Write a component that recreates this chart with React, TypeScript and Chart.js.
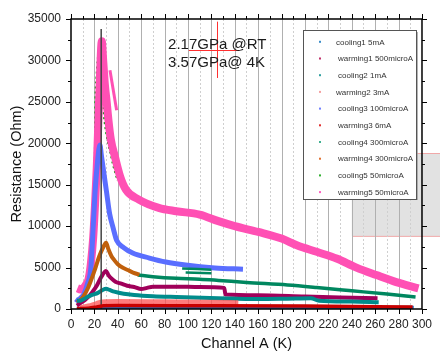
import React, { useEffect, useRef } from 'react';
import { Chart, registerables } from 'chart.js';
Chart.register(...registerables);

type P = [number, number];

const xTicks = [0, 20, 40, 60, 80, 100, 120, 140, 160, 180, 200, 220, 240, 260, 280, 300];
const yTicks = [0, 5000, 10000, 15000, 20000, 25000, 30000, 35000];

const cooling1: P[] = [[5, 80], [30, 120], [100, 150], [200, 160], [293, 200]];
const warming1: P[] = [[5, 400], [8, 700], [12, 1100], [15, 1500], [18, 2000], [22, 2800], [26, 3900], [30, 4600], [32, 4100], [34.5, 3700], [38, 3300], [43, 3050], [48, 2800], [54, 2650], [60, 2400], [65, 2550], [70, 2700], [90, 2700], [110, 2650], [131, 2550], [132, 1750], [160, 1650], [200, 1500], [230, 1400], [262, 1300]];
const cooling2: P[] = [[5, 1000], [8, 1000], [11, 1200], [14.7, 1500], [18, 1700], [23, 1950], [27, 2300], [30, 2450], [33, 2300], [37, 2100], [45, 1850], [54, 1700], [70, 1550], [90, 1450], [126, 1300], [160, 1200], [185, 1250], [205, 1300], [212, 1000], [240, 900], [263, 800]];
const warming2: P[] = [[8, 100], [15, 300], [22, 600], [27, 800], [40, 850], [80, 800], [120, 750], [143, 700]];
const cooling3: P[] = [[4, 1200], [6, 1000], [8, 1300], [11, 1800], [14, 3000], [17, 5000], [19, 10000], [20.5, 14000], [22.5, 17500], [24.7, 19800], [26, 18500], [27.7, 16800], [30.5, 14000], [33, 11500], [36, 9800], [39, 8300], [45, 7400], [52.7, 6750], [67, 6150], [81, 5670], [98, 5300], [123, 4950], [147, 4800]];
const warming3: P[] = [[5, 50], [15, 100], [22, 250], [28, 400], [40, 420], [100, 400], [200, 350], [292, 250]];
const cooling4: P[] = [[57, 4100], [70, 3900], [90, 3700], [110, 3600], [126, 3450], [150, 3200], [185, 2900], [210, 2600], [240, 2200], [270, 1800], [294.5, 1450]];
const cooling4b: P[] = [[95, 4900], [120, 4750]];
const cooling4c: P[] = [[98, 4400], [120, 4300]];
const warming4: P[] = [[5, 800], [8, 1100], [11, 1600], [14.7, 2600], [18, 3800], [21, 5000], [24, 6300], [27, 7300], [30, 8000], [32, 7200], [34.5, 6400], [37, 5900], [40, 5400], [44, 5000], [48.5, 4700], [53, 4400], [58.5, 4150]];
const cooling5: P[] = [[14, 2500], [17, 6000], [19, 12000], [20.5, 17000], [21, 24400], [22, 28000], [23, 30000], [25, 32100], [26.5, 28000], [28, 24000], [30, 21500], [32, 20000], [34, 18800], [36, 17500], [38, 16500], [40, 15500]];
const warming5: P[] = [[5.5, 2500], [8, 2350], [11, 2600], [13, 3000], [15, 3600], [17, 5500], [19, 8700], [20.5, 12500], [22, 17000], [23.5, 23000], [25, 29000], [26.3, 32300], [27.5, 30000], [29, 27000], [30.5, 25000], [32, 22800], [34, 20500], [37.5, 18400], [42, 16000], [47, 14400], [58, 13200], [75, 12200], [90, 11800], [110, 11400], [126, 10600], [140, 10000], [160, 9300], [180, 8500], [193, 7700], [210, 6900], [227, 6100], [244, 5000], [261, 4100], [278, 3250], [297, 2500]];
const warming5b: P[] = [[33.3, 28800], [39, 24000]];
const warming5c: P[] = [[31, 25200], [33, 23600]];
const markerLine: P[] = [[25.8, 0], [25.8, 33800]];

const legendLabels = ['cooling1 5mA', 'warming1 500microA', 'cooling2 1mA', 'warming2 3mA', 'cooling3 100microA', 'warming3 6mA', 'cooling4 300microA', 'warming4 300microA', 'cooling5 50microA', 'warming5 50microA'];
const legendColors = ['#3a8cc8', '#c0306a', '#30a0a0', '#f4a0a0', '#7080ff', '#e03030', '#40b090', '#e07030', '#30b030', '#ff60c0'];

const noteLines = ['2.17GPa @RT', '3.57GPa@ 4K'];

const FONT = '"Liberation Sans", Arial, sans-serif';

function ds(label: string, pts: P[], color: string, width: number, order: number, extra: any = {}) {
  return {
    label,
    data: pts.map(([x, y]) => ({ x, y })),
    borderColor: color,
    backgroundColor: color,
    borderWidth: width,
    pointRadius: 0,
    showLine: true,
    fill: false,
    cubicInterpolationMode: 'monotone',
    borderJoinStyle: 'round',
    order,
    ...extra,
  };
}

const decor = {
  id: 'decor',
  beforeDatasetsDraw(chart: any) {
    const ctx = chart.ctx;
    const xs = chart.scales.x, ys = chart.scales.y;
    const { top, bottom } = chart.chartArea;
    ctx.save();
    // grey rectangle
    const rx = xs.getPixelForValue(240), ry1 = ys.getPixelForValue(18800), ry2 = ys.getPixelForValue(8800);
    ctx.fillStyle = '#e2e2e2';
    ctx.fillRect(rx, ry1, chart.width - rx, ry2 - ry1);
    ctx.strokeStyle = '#f0a8a8';
    ctx.lineWidth = 1;
    ctx.strokeRect(Math.round(rx) + 0.5, Math.round(ry1) + 0.5, chart.width - rx + 2, ry2 - ry1);
    // vertical grid
    for (let v = 10; v < 300; v += 10) {
      const px = Math.round(xs.getPixelForValue(v)) + 0.5;
      ctx.beginPath();
      if (v % 20 === 0) {
        ctx.setLineDash([]);
        ctx.strokeStyle = '#b0b0b0';
      } else {
        ctx.setLineDash([2, 2]);
        ctx.strokeStyle = '#cfcfcf';
      }
      ctx.moveTo(px, top);
      ctx.lineTo(px, bottom);
      ctx.stroke();
    }
    ctx.restore();
  },
  afterDatasetsDraw(chart: any) {
    const ctx = chart.ctx;
    const xs = chart.scales.x, ys = chart.scales.y;
    const { left, right, top, bottom } = chart.chartArea;
    ctx.save();
    // frame
    ctx.strokeStyle = '#000';
    ctx.lineWidth = 1.5;
    ctx.strokeRect(left, top, right - left, bottom - top);
    ctx.lineWidth = 1;
    ctx.beginPath();
    for (let v = 0; v <= 300; v += 10) {
      const px = Math.round(xs.getPixelForValue(v)) + 0.5;
      const len = v % 20 === 0 ? 5 : 3;
      ctx.moveTo(px, bottom); ctx.lineTo(px, bottom + len);
      ctx.moveTo(px, top); ctx.lineTo(px, top - len);
    }
    for (let v = 0; v <= 35000; v += 2500) {
      const py = Math.round(ys.getPixelForValue(v)) + 0.5;
      const len = v % 5000 === 0 ? 5 : 3;
      ctx.moveTo(left, py); ctx.lineTo(left - len, py);
      ctx.moveTo(right, py); ctx.lineTo(right + len, py);
    }
    ctx.stroke();

    // red annotation lines
    ctx.strokeStyle = '#ff3030';
    ctx.lineWidth = 1;
    ctx.beginPath();
    const hy = Math.round(ys.getPixelForValue(31260)) + 0.5;
    ctx.moveTo(xs.getPixelForValue(100.7), hy); ctx.lineTo(xs.getPixelForValue(143.8), hy);
    const vx = Math.round(xs.getPixelForValue(124.5)) + 0.5;
    ctx.moveTo(vx, ys.getPixelForValue(34680)); ctx.lineTo(vx, ys.getPixelForValue(27880));
    ctx.stroke();

    // note text
    ctx.fillStyle = '#1a1a1a';
    ctx.font = `15px ${FONT}`;
    ctx.textBaseline = 'middle';
    ctx.textAlign = 'left';
    ctx.fillText(noteLines[0], xs.getPixelForValue(83), ys.getPixelForValue(31860));
    ctx.fillText(noteLines[1], xs.getPixelForValue(83), ys.getPixelForValue(29700));

    // legend
    const bx = left + 232, by = top + 11, bw = 113, bh = 169;
    ctx.fillStyle = '#fff';
    ctx.fillRect(bx, by, bw, bh);
    ctx.strokeStyle = '#9a9a9a';
    ctx.lineWidth = 1.5;
    ctx.beginPath();
    ctx.moveTo(bx + bw + 1, by + 2); ctx.lineTo(bx + bw + 1, by + bh + 1);
    ctx.stroke();
    ctx.strokeStyle = '#555';
    ctx.lineWidth = 1;
    ctx.strokeRect(bx + 0.5, by + 0.5, bw, bh);
    ctx.font = `8px ${FONT}`;
    ctx.textBaseline = 'middle';
    legendLabels.forEach((lab, i) => {
      const cy = by + 12.3 + i * 16.7;
      ctx.fillStyle = legendColors[i];
      ctx.fillRect(bx + 16, cy - 1.5, 2, 2);
      ctx.fillStyle = '#333';
      ctx.fillText(lab, bx + 33 + (i === 0 || i === 3 ? 0 : 2), cy);
    });

    // axis titles
    ctx.fillStyle = '#111';
    ctx.font = `14.5px ${FONT}`;
    ctx.textAlign = 'center';
    ctx.textBaseline = 'middle';
    ctx.fillText('Channel A (K)', (left + right) / 2, 344);
    ctx.save();
    ctx.translate(17, (top + bottom) / 2 + 0);
    ctx.rotate(-Math.PI / 2);
    ctx.fillText('Resistance (Ohm)', 0, 0);
    ctx.restore();
    ctx.restore();
  },
};

export default function App() {
  const ref = useRef<HTMLCanvasElement>(null);
  useEffect(() => {
    const datasets: any[] = [
      ds('cooling1 5mA', cooling1, '#1f6fc0', 3, 9),
      ds('warming1 500microA', warming1, '#a0005a', 4, 5),
      ds('cooling2 1mA', cooling2, '#008c8c', 4, 4),
      ds('warming2 3mA', warming2, 'rgba(255,80,80,0.75)', 6, 3),
      ds('cooling3 100microA', cooling3, '#5a6eff', 5, 7),
      ds('warming3 6mA', warming3, '#c80000', 3.5, 1),
      ds('cooling4 300microA', cooling4, '#00875f', 3.5, 6),
      ds('', cooling4b, '#00875f', 2.5, 6),
      ds('', cooling4c, '#00875f', 2.5, 6),
      ds('warming4 300microA', warming4, '#c0600c', 4, 5),
      ds('cooling5 50microA', cooling5, '#009900', 2.5, 10, { borderDash: [2, 3] }),
      ds('warming5 50microA', warming5, '#ff50b4', 8, 8),
      ds('', warming5b, '#ff50b4', 3, 8),
      ds('', warming5c, '#ff50b4', 3, 8),
      ds('', markerLine, '#444', 1.5, 2, { cubicInterpolationMode: 'default', tension: 0 }),
    ];
    const chart = new Chart(ref.current as HTMLCanvasElement, {
      type: 'scatter',
      data: { datasets },
      options: {
        animation: false,
        responsive: true,
        maintainAspectRatio: false,
        layout: { padding: { top: 19, right: 13, left: 0, bottom: 0 } },
        plugins: { legend: { display: false }, tooltip: { enabled: false } },
        scales: {
          x: {
            type: 'linear',
            min: 0,
            max: 300,
            afterBuildTicks: (s: any) => { s.ticks = xTicks.map((v) => ({ value: v })); },
            grid: { display: false, drawTicks: false },
            border: { display: false },
            ticks: { color: '#222', font: { family: FONT, size: 12 }, padding: 8, maxRotation: 0, autoSkip: false, callback: (v: any) => String(v) },
            afterFit: (s: any) => { s.height = 44; },
          },
          y: {
            type: 'linear',
            min: 0,
            max: 35000,
            afterBuildTicks: (s: any) => { s.ticks = yTicks.map((v) => ({ value: v })); },
            grid: { display: false, drawTicks: false },
            border: { display: false },
            ticks: { color: '#222', font: { family: FONT, size: 12 }, padding: 10, autoSkip: false, callback: (v: any) => String(v) },
            afterFit: (s: any) => { s.width = 71; },
          },
        },
      } as any,
      plugins: [decor],
    });
    return () => chart.destroy();
  }, []);
  return (
    <div style={{ position: 'absolute', left: 0, top: 0, width: 440, height: 353, background: '#fff' }}>
      <canvas ref={ref} />
    </div>
  );
}
